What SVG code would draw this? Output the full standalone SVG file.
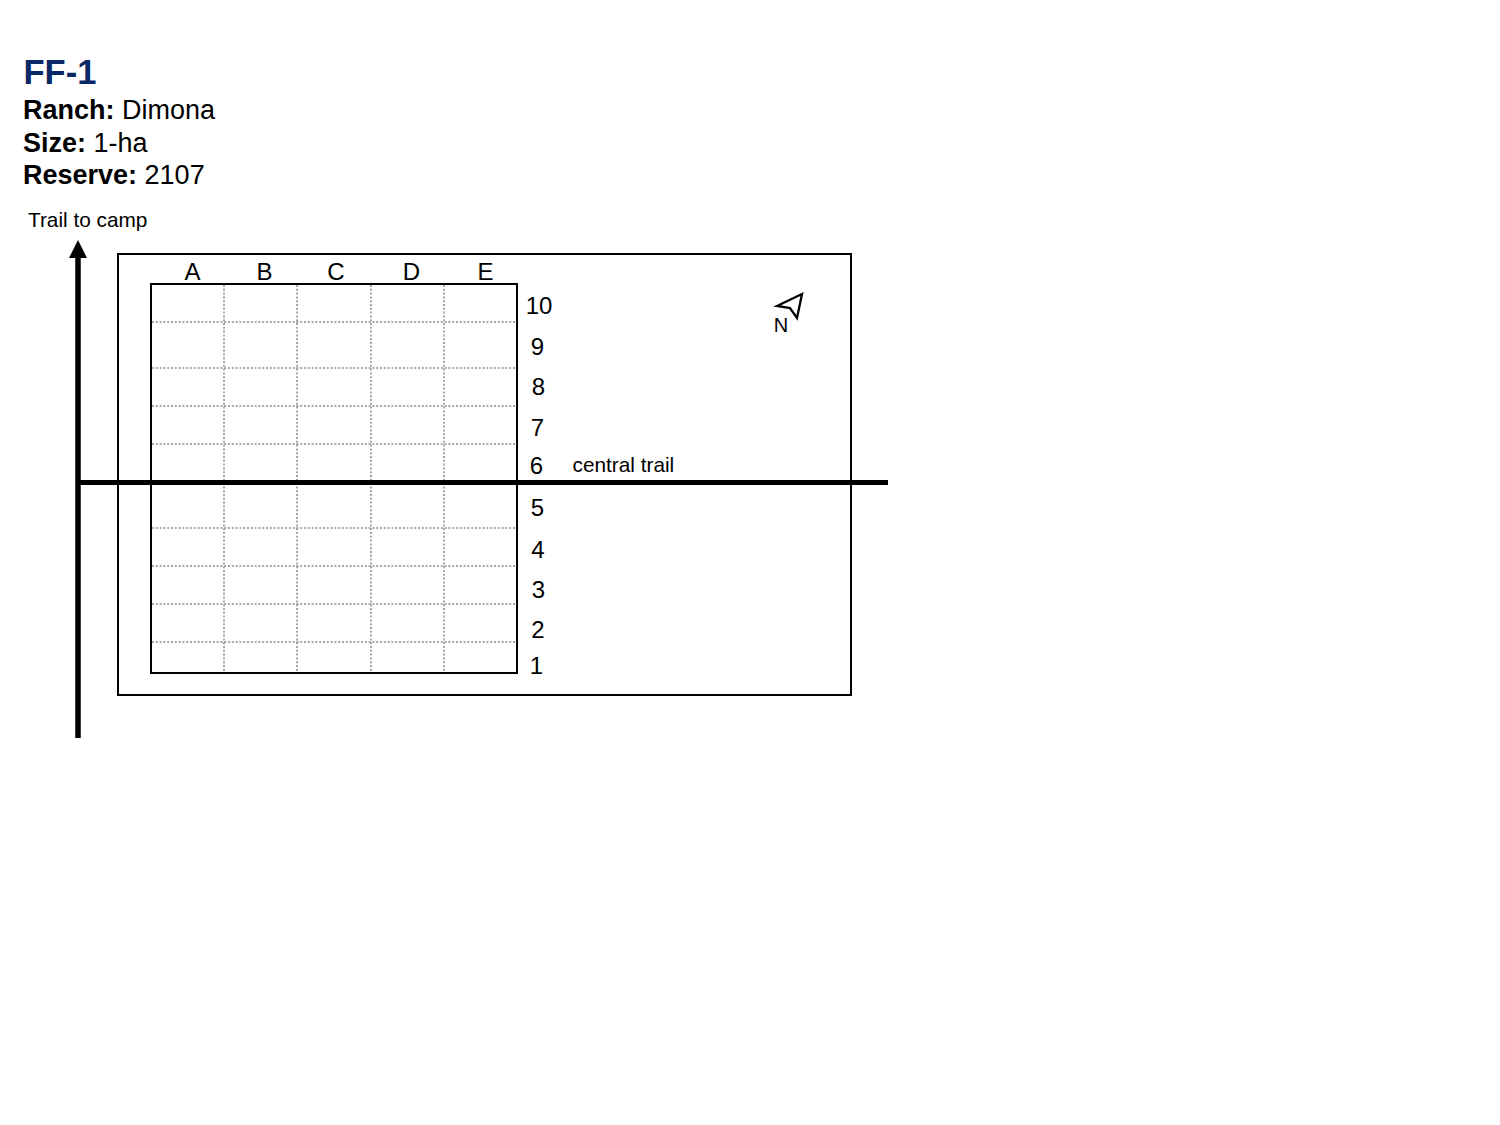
<svg xmlns="http://www.w3.org/2000/svg" width="1500" height="1125" viewBox="0 0 1500 1125">
<style>
text{font-family:"Liberation Sans",Arial,sans-serif;fill:#000}
.h{font-size:27px}
.m{font-size:20.800px}
.g{font-size:24px;text-anchor:middle}
.d{stroke:#8a8a8a;stroke-width:1.500;stroke-dasharray:2 1.800;fill:none}
.b{stroke:#000;stroke-width:2;fill:none}
</style>
<rect width="1500" height="1125" fill="#fff"/>
<g id="title">
<text x="23.500" y="84" font-size="34.500" font-weight="bold" style="fill:#0a2865">FF-1</text>
<text x="23" y="119" class="h"><tspan font-weight="bold">Ranch:</tspan> Dimona</text>
<text x="23" y="152" class="h"><tspan font-weight="bold">Size:</tspan> 1-ha</text>
<text x="23" y="184" class="h"><tspan font-weight="bold">Reserve:</tspan> 2107</text>
</g>
<g id="plot"><rect class="b" x="118" y="254" width="733" height="441"/></g>
<g id="grid">
<path class="d" d="M224 285V673M297 285V673M371 285V673M444 285V673M152 322H517M152 368H517M152 406H517M152 444H517M152 528H517M152 566H517M152 604H517M152 642H517"/>
<rect class="b" x="151" y="284" width="366" height="389"/>
</g>
<g id="column-labels">
<text x="192.500" y="280" class="g">A</text><text x="264.500" y="280" class="g">B</text><text x="336" y="280" class="g">C</text><text x="411.500" y="280" class="g">D</text><text x="485.500" y="280" class="g">E</text>
</g>
<g id="row-labels">
<text x="539" y="314" class="g">10</text><text x="537.500" y="355" class="g">9</text><text x="538.500" y="395" class="g">8</text><text x="537.500" y="436" class="g">7</text><text x="536.500" y="474" class="g">6</text><text x="537.500" y="516" class="g">5</text><text x="538" y="558" class="g">4</text><text x="538.500" y="598" class="g">3</text><text x="538" y="638" class="g">2</text><text x="536.500" y="674" class="g">1</text>
</g>
<g id="connectors">
<path d="M78 738V256" stroke="#000" stroke-width="5.500" fill="none"/>
<path d="M78 240L87 258H69Z" fill="#000"/>
<path d="M79 482.500H888" stroke="#000" stroke-width="5" fill="none"/>
</g>
<g id="trail-labels">
<text x="28" y="227" class="m">Trail to camp</text>
<text x="572.500" y="472" class="m">central trail</text>
</g>
<g id="north">
<path d="M777 306L802 294L797 318L790 308Z" fill="none" stroke="#000" stroke-width="2.300"/>
<text x="781" y="332" font-size="20" text-anchor="middle">N</text>
</g>
</svg>
